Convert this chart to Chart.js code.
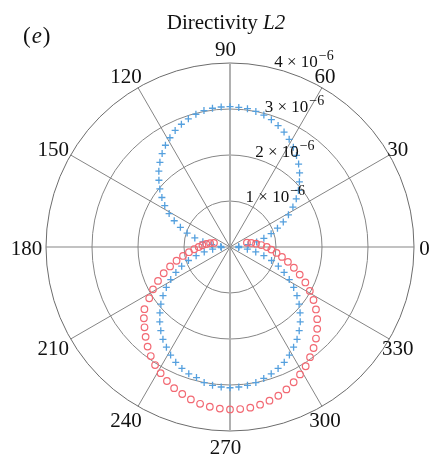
<!DOCTYPE html>
<html>
<head>
<meta charset="utf-8">
<script src="https://cdn.jsdelivr.net/npm/chart.js@4.4.0/dist/chart.umd.min.js"></script>
<style>
  body { margin: 0; background: #fff; }
  #wrap { width: 434px; height: 456px; }
</style>
</head>
<body>
<div id="wrap"><canvas id="chart1" width="434" height="456"></canvas></div>
<script>
// polar angle of every sample, degrees
var thetaDeg = [0,3.6,7.2,10.8,14.4,18,21.6,25.2,28.8,32.4,36,39.6,43.2,46.8,50.4,54,57.6,61.2,64.8,68.4,
  72,75.6,79.2,82.8,86.4,90,93.6,97.2,100.8,104.4,108,111.6,115.2,118.8,122.4,126,129.6,133.2,136.8,140.4,
  144,147.6,151.2,154.8,158.4,162,165.6,169.2,172.8,176.4,180,183.6,187.2,190.8,194.4,198,201.6,205.2,208.8,212.4,
  216,219.6,223.2,226.8,230.4,234,237.6,241.2,244.8,248.4,252,255.6,259.2,262.8,266.4,270,273.6,277.2,280.8,284.4,
  288,291.6,295.2,298.8,302.4,306,309.6,313.2,316.8,320.4,324,327.6,331.2,334.8,338.4,342,345.6,349.2,352.8,356.4];

// directivity, in units of 1e-6
var blueCross = [null,0.19,0.40,0.59,0.76,0.94,1.11,1.28,1.45,1.62,
  1.78,1.93,2.07,2.21,2.34,2.46,2.57,2.67,2.76,2.84,
  2.91,2.96,3.00,3.03,3.04,3.05,3.05,3.04,3.02,2.98,
  2.93,2.87,2.80,2.71,2.62,2.51,2.39,2.26,2.12,1.98,
  1.83,1.68,1.51,1.34,1.16,0.98,0.79,0.60,0.40,0.20,
  null,0.19,0.38,0.57,0.76,0.95,1.13,1.30,1.47,1.64,
  1.80,1.95,2.09,2.23,2.36,2.48,2.58,2.68,2.77,2.84,
  2.90,2.93,3.00,3.03,3.05,3.06,3.05,3.03,3.00,2.95,
  2.90,2.84,2.77,2.68,2.58,2.48,2.36,2.23,2.09,1.95,
  1.80,1.64,1.47,1.30,1.13,0.95,0.76,0.57,0.38,0.19];

var redCircle = [0.80,0.68,0.57,0.47,0.38,null,null,null,null,null,
  null,null,null,null,null,null,null,null,null,null,
  null,null,null,null,null,null,null,null,null,null,
  null,null,null,null,null,null,null,null,null,null,
  null,null,null,null,null,null,0.36,0.44,0.52,0.60,
  0.68,0.78,0.90,1.04,1.20,1.37,1.55,1.73,1.91,2.08,
  2.30,2.43,2.55,2.68,2.81,2.93,3.04,3.13,3.22,3.30,
  3.36,3.42,3.47,3.50,3.52,3.53,3.53,3.52,3.49,3.45,
  3.40,3.33,3.25,3.16,3.07,2.96,2.85,2.73,2.60,2.46,
  2.31,2.15,1.98,1.81,1.63,1.46,1.30,1.15,1.02,0.90];

var spokeLabels = [0,30,60,90,120,150,180,210,240,270,300,330];
var ringValues = [1,2,3,4];
var ringExp = '\u22126';
var titleText = 'Directivity ';
var titleItalic = 'L2';
var panelTag = 'e';

// radar scale goes clockwise, so lay the samples on a 1.2 degree grid running backwards
var N = 300;
var labels = [];
for (var i = 0; i < N; i++) {
  labels.push(String(Math.round((360 - i * 1.2) % 360 * 10) / 10));
}
function toGrid(values){
  var out = new Array(N).fill(null);
  for (var k = 0; k < thetaDeg.length; k++) {
    var idx = Math.round(((360 - thetaDeg[k]) % 360) / 1.2);
    out[idx] = values[k];
  }
  return out;
}
function gridAngle(i){
  return Math.round((360 - i * 1.2) % 360);
}

var serif = '"Liberation Serif", "DejaVu Serif", serif';

var textPlugin = {
  id: 'polarText',
  afterDraw(chart){
    var ctx = chart.ctx;
    var sc = chart.scales.r;
    var rMax = sc.getDistanceFromCenterForValue(4);
    ctx.save();
    ctx.fillStyle = '#111';

    // angle labels round the outside
    ctx.font = '21px ' + serif;
    ctx.textAlign = 'center';
    ctx.textBaseline = 'middle';
    spokeLabels.forEach(function(a){
      var idx = Math.round(((360 - a) % 360) / 1.2);
      var p = sc.getPointPosition(idx, rMax * 199 / 184);
      ctx.fillText(String(a), p.x - 4.5, p.y + 2.5);
    });

    // ring labels, n x 10^-6
    ctx.textAlign = 'left';
    ctx.textBaseline = 'alphabetic';
    var ang = 78 * Math.PI / 180;
    ringValues.forEach(function(v){
      var rr = sc.getDistanceFromCenterForValue(v);
      var x = sc.xCenter + rr * Math.cos(ang) + 6;
      var y = sc.yCenter - rr * Math.sin(ang);
      ctx.font = '17px ' + serif;
      var main = v + ' \u00d7 10';
      ctx.fillText(main, x, y);
      var w = ctx.measureText(main).width;
      ctx.font = '14px ' + serif;
      ctx.fillText(ringExp, x + w + 1, y - 7);
    });

    // title
    ctx.font = '21px ' + serif;
    var w1 = ctx.measureText(titleText).width;
    ctx.font = 'italic 21px ' + serif;
    var w2 = ctx.measureText(titleItalic).width;
    var tx = 226 - (w1 + w2) / 2;
    ctx.font = '21px ' + serif;
    ctx.fillText(titleText, tx, 29);
    ctx.font = 'italic 21px ' + serif;
    ctx.fillText(titleItalic, tx + w1, 29);

    // panel tag (e)
    ctx.font = '23px ' + serif;
    ctx.fillText('(', 23, 43);
    var px = 23 + ctx.measureText('(').width;
    ctx.font = 'italic 23px ' + serif;
    ctx.fillText(panelTag, px + 1, 43);
    px += ctx.measureText(panelTag).width + 1;
    ctx.font = '23px ' + serif;
    ctx.fillText(')', px + 1, 43);
    ctx.restore();
  }
};

new Chart(document.getElementById('chart1'), {
  type: 'radar',
  data: {
    labels: labels,
    datasets: [{
      label: 'red',
      data: toGrid(redCircle),
      showLine: false,
      fill: false,
      pointStyle: 'circle',
      pointRadius: 3.3,
      pointBorderWidth: 1.2,
      pointBorderColor: 'rgb(242,105,115)',
      pointBackgroundColor: 'rgba(0,0,0,0)',
      order: 1
    }, {
      label: 'blue',
      data: toGrid(blueCross),
      showLine: false,
      fill: false,
      pointStyle: 'cross',
      pointRadius: 3.5,
      pointBorderWidth: 1.3,
      pointBorderColor: 'rgb(85,160,222)',
      pointBackgroundColor: 'rgb(85,160,222)',
      order: 2
    }]
  },
  options: {
    responsive: false,
    animation: false,
    events: [],
    layout: { padding: { left: 46, right: 20, top: 63, bottom: 25 } },
    plugins: { legend: { display: false }, tooltip: { enabled: false } },
    scales: {
      r: {
        min: 0,
        max: 4,
        startAngle: 90,
        ticks: { display: false, stepSize: 1 },
        pointLabels: { display: false },
        grid: {
          circular: true,
          lineWidth: 1,
          color: function(c){ return c.tick && c.tick.value === 4 ? '#6c6c6c' : '#868686'; }
        },
        angleLines: {
          display: true,
          lineWidth: function(c){
            if (c.index % 25 !== 0) return 0;
            var a = gridAngle(c.index);
            return (a === 90 || a === 270) ? 2 : 1;
          },
          color: function(c){
            var a = gridAngle(c.index);
            return (a === 90 || a === 270) ? '#b0b0b0' : '#858585';
          }
        }
      }
    }
  },
  plugins: [textPlugin]
});
</script>
</body>
</html>
